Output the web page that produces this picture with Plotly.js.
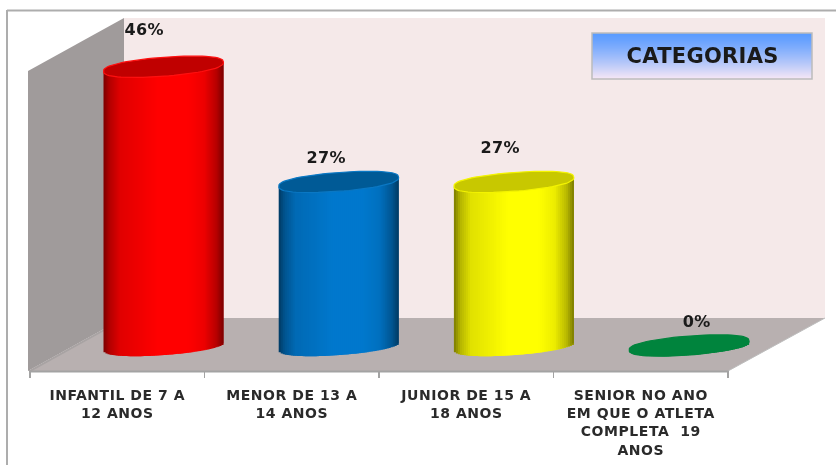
<!DOCTYPE html>
<html>
<head>
<meta charset="utf-8">
<script src="https://cdn.plot.ly/plotly-3.0.0.min.js"></script>
<style>
html,body{margin:0;padding:0;background:#fff;overflow:hidden}
#chart{width:836px;height:465px;filter:blur(0.4px)}
#chart .xtick text{letter-spacing:.55px}
#chart .annotation-text{letter-spacing:.3px}
</style>
</head>
<body>
<div id="chart"></div>
<script>
// ---- data ----
const categories = ['INFANTIL DE 7 A<br>12 ANOS','MENOR DE 13 A<br>14 ANOS','JUNIOR DE 15 A<br>18 ANOS','SENIOR NO ANO<br>EM QUE O ATLETA<br>COMPLETA  19<br>ANOS'];
const values = [46, 27, 27, 0];
const bodyColors = [[255,0,0],[0,120,205],[255,255,0],[0,132,61]];
const capColors = ['#c00000','#005a96','#c8c800','#00843d'];
const capLines = ['#ff1010','#0a78c4','#f4f400','#00843d'];
const shadeEnabled = [true,true,true,false];
const labelDx = [0.153,0.196,0.193,0.322];   // label offset from category, axis units
const labelDy = [6.1,4.1,5.6,3.9];           // label offset above value, axis units

// ---- page geometry in pixels ----
const W=836,H=465;
const plotL=30,axisR=728,plotR=770,plotT=18,plotB=371;
const zeroPx=345.5,pxPerUnit=6.06;
const catPx=(axisR-plotL)/categories.length;
const firstCylPx=163.5,cylPitchPx=175.2,radiusPx=60,tiltPx=4.5,minorPx=9.5,roundExp=.8;
const px=x=>(x-plotL)/(plotR-plotL);
const py=y=>(plotB-y)/(plotB-plotT);
const toAxis=p=>(p-plotL)/catPx-.5;

// shading across a cylinder
const shadeStops=[[-1,.48],[-.9,.7],[-.72,.88],[-.4,.94],[-.1,1],[.4,1],[.68,.93],[.88,.72],[1,.48]];
function shade(t){
  for(let i=1;i<shadeStops.length;i++){
    if(t<=shadeStops[i][0]){
      const a=shadeStops[i-1],b=shadeStops[i];
      return a[1]+(b[1]-a[1])*(t-a[0])/(b[0]-a[0]);
    }
  }
  return 1;
}

const idx=categories.map((_,i)=>i);
const cylAxis=idx.map(k=>toAxis(firstCylPx+k*cylPitchPx));
const traces=[];
const strips=60;
const stripW=(2*radiusPx/strips)/catPx;
for(let s=0;s<strips;s++){
  const t=(s+.5)/strips*2-1;
  const baseUnits=-( -tiltPx*t + minorPx*Math.pow(1-t*t,roundExp/2) )/pxPerUnit;
  const topUnits=tiltPx*t/pxPerUnit;
  const colors=bodyColors.map((c,k)=>{
    const f=shadeEnabled[k]?shade(t):1;
    return `rgb(${c.map(v=>Math.round(v*f)).join(',')})`;
  });
  const last=s===strips-1;
  traces.push({
    type:'bar',x:idx,y:values.map(v=>v+topUnits-baseUnits),base:values.map(()=>baseUnits),
    width:last?stripW:stripW*2,
    offset:idx.map(k=>cylAxis[k]-k+t*radiusPx/catPx-stripW/2),
    marker:{color:colors,line:{width:0}},cliponaxis:false,hoverinfo:'skip',showlegend:false
  });
}
// top ellipses
values.forEach((v,k)=>{
  const xs=[],ys=[];
  for(let a=0;a<=72;a++){
    const th=a/72*2*Math.PI;
    const sn=Math.sin(th);
    xs.push(cylAxis[k]+radiusPx*Math.cos(th)/catPx);
    ys.push(v+(tiltPx*Math.cos(th)+minorPx*Math.sign(sn)*Math.pow(Math.abs(sn),roundExp))/pxPerUnit);
  }
  traces.push({type:'scatter',mode:'lines',x:xs,y:ys,fill:'toself',fillcolor:capColors[k],
    line:{color:capLines[k],width:1.2,shape:'linear'},cliponaxis:false,hoverinfo:'skip',showlegend:false});
});

// page furniture
const poly=(pts,fill,line)=>({type:'path',xref:'paper',yref:'paper',layer:'below',
  path:'M'+pts.map(p=>px(p[0])+','+py(p[1])).join(' L')+' Z',fillcolor:fill,line:line||{width:0}});
const shapes=[
  poly([[124,18],[825,18],[825,318],[124,318]],'#f5e9e9'),
  poly([[28,71],[124,18],[124,318],[28,371]],'#a09b9b'),
  poly([[28,371],[124,318],[825,318],[728,371]],'#b8b0b0'),
  poly([[28,371],[124,318],[124,320],[32,371]],'#a8a3a3'),
  {type:'line',xref:'paper',yref:'paper',x0:px(7),y0:py(10.5),x1:px(836),y1:py(10.5),line:{color:'#adadad',width:2},layer:'below'},
  {type:'line',xref:'paper',yref:'paper',x0:px(7),y0:py(10),x1:px(7),y1:py(465),line:{color:'#adadad',width:2},layer:'below'},
  {type:'line',xref:'paper',yref:'paper',x0:px(728),y0:py(371),x1:px(825),y1:py(318),line:{color:'#bdbdbd',width:1},layer:'below'},
  {type:'line',xref:'paper',yref:'paper',x0:px(29),y0:py(371.5),x1:px(729),y1:py(371.5),line:{color:'#a3a3a3',width:2},layer:'below'}
];
// title box gradient
const boxL=592,boxR=812,boxT=33,boxB=79;
const gradTop=[90,155,255],gradBot=[245,230,245];
for(let y=boxT;y<boxB;y++){
  const f=Math.pow((y-boxT)/(boxB-boxT-1),1.25);
  const c=gradTop.map((v,i)=>Math.round(v+(gradBot[i]-v)*f));
  shapes.push({type:'rect',xref:'paper',yref:'paper',layer:'below',x0:px(boxL),x1:px(boxR),y0:py(y),y1:py(y+1.2),
    fillcolor:`rgb(${c.join(',')})`,line:{width:0}});
}
shapes.push({type:'rect',xref:'paper',yref:'paper',layer:'below',x0:px(boxL),x1:px(boxR),y0:py(boxT),y1:py(boxB),
  line:{color:'#bcbcbc',width:1.5},fillcolor:'rgba(0,0,0,0)'});

const annotations=values.map((v,k)=>({
  x:k+labelDx[k],y:v+labelDy[k],xref:'x',yref:'y',text:v+'%',showarrow:false,xanchor:'center',yanchor:'middle',
  font:{family:'DejaVu Sans',size:16,color:'#1a1a1a',weight:700}
}));
annotations.push({xref:'paper',yref:'paper',x:px(702),y:py(56),text:'CATEGORIAS',showarrow:false,xanchor:'center',yanchor:'middle',
  font:{family:'DejaVu Sans',size:21,color:'#1a1a1a',weight:700}});

const layout={
  width:W,height:H,margin:{l:plotL,r:W-plotR,t:plotT,b:H-plotB,pad:0},
  paper_bgcolor:'#ffffff',plot_bgcolor:'rgba(0,0,0,0)',
  barmode:'overlay',showlegend:false,hovermode:false,
  xaxis:{type:'linear',range:[-.5,toAxis(plotR)],tickmode:'array',tickvals:idx,ticktext:categories,
    ticks:'',showgrid:false,zeroline:false,showline:false,
    tickangle:0,ticklabelstandoff:14,
    tickfont:{family:'DejaVu Sans',size:14,color:'#2a2a2a',weight:700},
    minor:{tickmode:'array',tickvals:[-.5,.5,1.5,2.5,3.5],ticks:'outside',ticklen:6,tickcolor:'#a3a3a3',tickwidth:1.5,showgrid:false}},
  yaxis:{range:[(zeroPx-plotB)/pxPerUnit,(zeroPx-plotT)/pxPerUnit],visible:false,showgrid:false,zeroline:false},
  shapes:shapes,annotations:annotations
};
Plotly.newPlot('chart',traces,layout,{displayModeBar:false,staticPlot:true});
</script>
</body>
</html>
